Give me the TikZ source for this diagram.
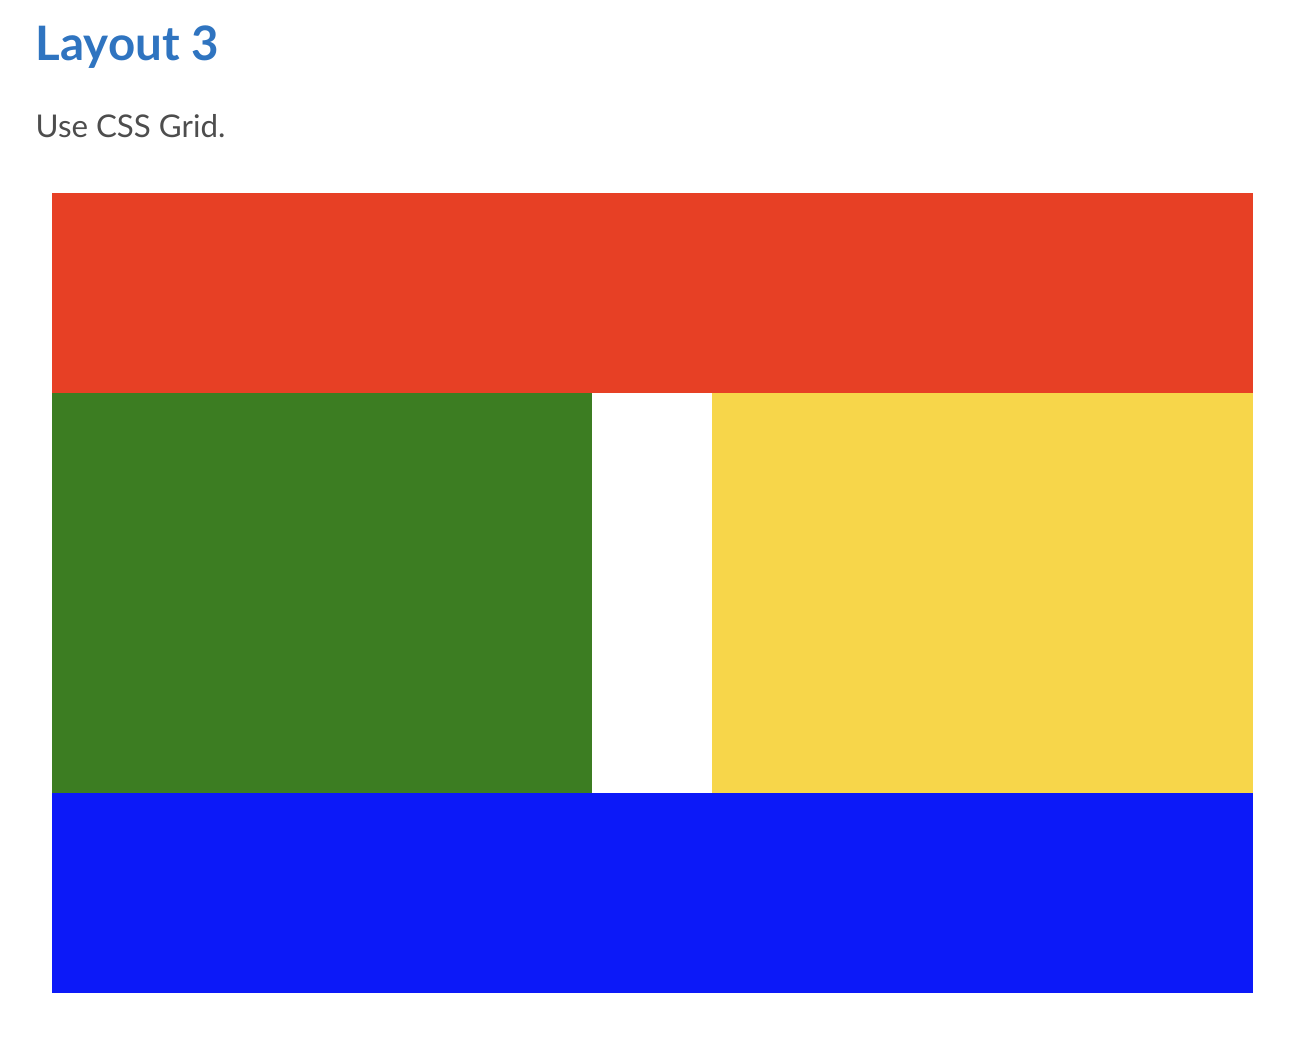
\documentclass[tikz,border=0pt]{standalone}
\usepackage{fontspec}
\setmainfont{Lato}
\usepackage{xcolor}
\usetikzlibrary{positioning}
\definecolor{titleblue}{RGB}{47,116,192}
\definecolor{textgray}{RGB}{77,77,77}
\definecolor{gridred}{RGB}{231,64,37}
\definecolor{gridgreen}{RGB}{60,125,34}
\definecolor{gridyellow}{RGB}{247,214,74}
\definecolor{gridblue}{RGB}{12,25,248}

\begin{document}
\begin{tikzpicture}[
  x=0.01cm, y=-0.01cm,
  title/.style={anchor=base west, inner sep=0pt, font=\fontsize{13.5}{16}\selectfont\bfseries, color=titleblue},
  lead/.style={anchor=base west, inner sep=0pt, font=\fontsize{8.9}{11}\selectfont, color=textgray},
  cell/.style={inner sep=0pt, outer sep=0pt, minimum width=5.4cm, minimum height=4cm},
  band/.style={cell, minimum width=12cm, minimum height=2cm},
]
\useasboundingbox (0,0) rectangle (1310,1042);

\node[title] (head) at (35,60) {Layout 3};
\node[lead] (intro) at (35,137) {Use CSS Grid.};

%% Grid areas
\node[band, fill=gridred, anchor=north west] (header) at (52,193) {};
\node[cell, fill=gridgreen, below right=0pt of header.south west] (sidebar) {};
\node[cell, fill=gridyellow, below left=0pt of header.south east] (main) {};
\node[band, fill=gridblue, below right=0pt of sidebar.south west] (footer) {};

\end{tikzpicture}
\end{document}
